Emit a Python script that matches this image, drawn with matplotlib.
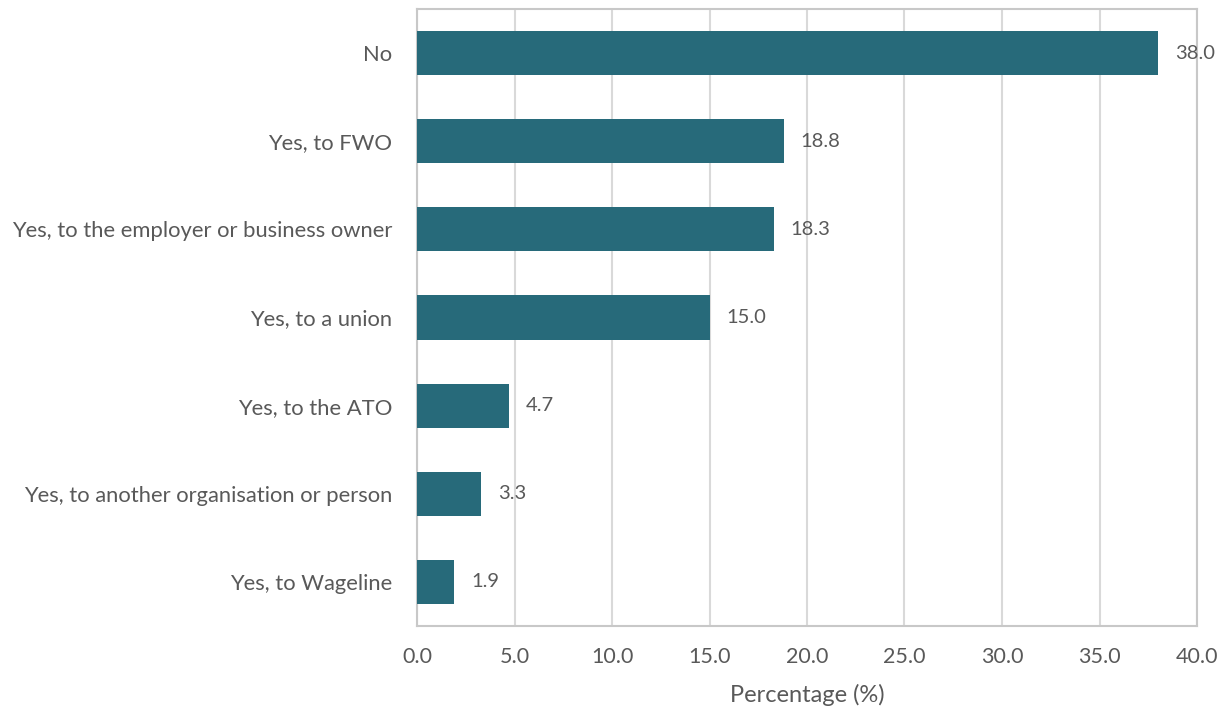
import matplotlib.pyplot as plt

plt.rcParams['font.family'] = ['Lato', 'DejaVu Sans']

categories = ['No', 'Yes, to FWO', 'Yes, to the employer or business owner',
              'Yes, to a union', 'Yes, to the ATO',
              'Yes, to another organisation or person', 'Yes, to Wageline']
values = [38.0, 18.8, 18.3, 15.0, 4.7, 3.3, 1.9]
xticks = [0, 5, 10, 15, 20, 25, 30, 35, 40]

bar_color = '#276a7a'
text_color = '#595959'
grid_color = '#d9d9d9'

fig = plt.figure(figsize=(12.28, 7.08), dpi=100)
ax = fig.add_axes([417 / 1228, 1 - 626 / 708, 780 / 1228, 617 / 708])

y = list(range(len(categories)))
ax.barh(y, values, height=0.5, color=bar_color, zorder=3)
for yi, v in zip(y, values):
    ax.text(v + 0.87, yi, f'{v:.1f}', va='center', ha='left',
            fontsize=14.5, color=text_color, zorder=4)

ax.set_ylim(len(categories) - 0.5, -0.5)
ax.set_yticks(y)
ax.set_yticklabels(categories, fontsize=15.8, color=text_color)
ax.set_xlim(0, 40)
ax.set_xticks(xticks)
ax.set_xticklabels([f'{t:.1f}' for t in xticks], fontsize=15.5, color=text_color)
ax.tick_params(axis='x', length=0, pad=15)
ax.tick_params(axis='y', length=0, pad=18)
ax.xaxis.grid(True, color=grid_color, linewidth=1.5, zorder=0)
for s in ax.spines.values():
    s.set_color('#c8c8c8')
    s.set_linewidth(1.5)
ax.set_xlabel('Percentage (%)', fontsize=17, color=text_color, labelpad=12)

fig.savefig('out.png', dpi=100)
